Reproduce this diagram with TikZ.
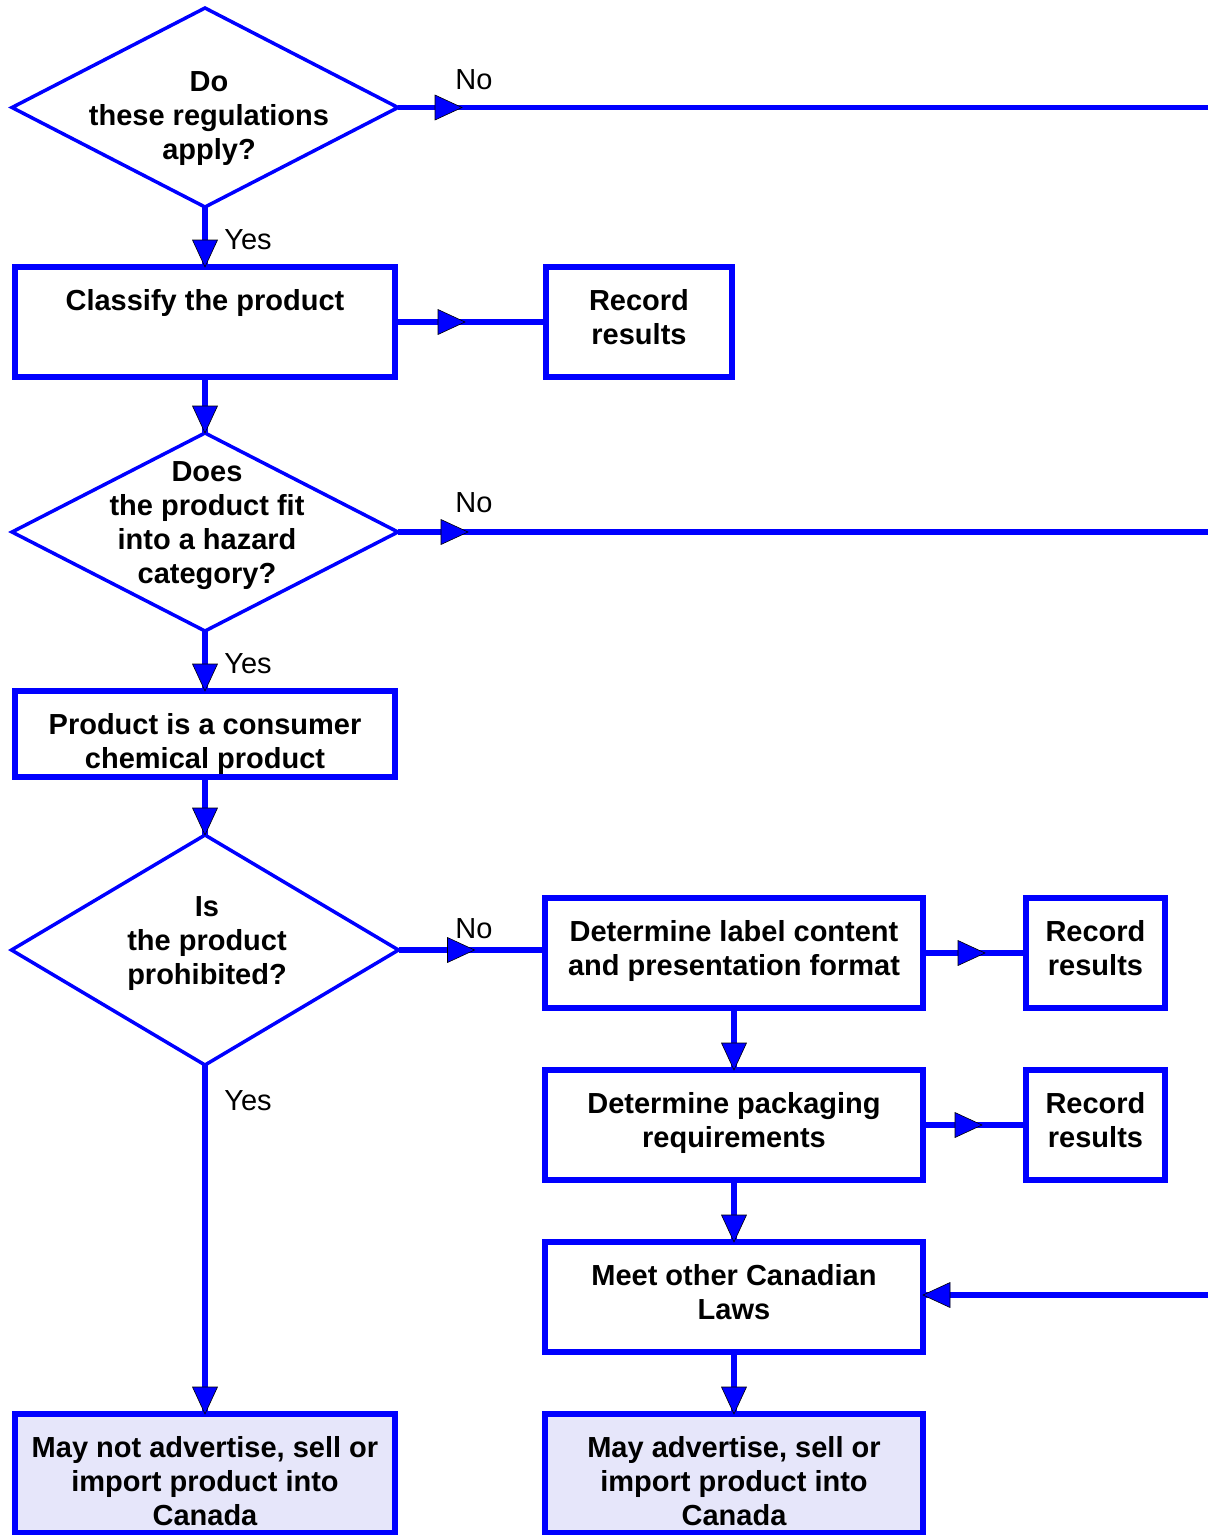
\documentclass[tikz,border=0pt]{standalone}
\usepackage{fontspec}
\setmainfont{Liberation Sans}
\usetikzlibrary{shapes.geometric,decorations.markings}

\definecolor{flowblue}{RGB}{0,0,255}
\definecolor{endfill}{RGB}{230,230,250}

\newcommand{\flowfont}{\fontsize{29}{34}\selectfont}

\tikzset{
  flowbox/.style 2 args={draw=flowblue, line width=5.5pt, inner sep=0pt, outer sep=0pt, anchor=north west,
    font=\flowfont\bfseries,
    execute at begin node={\begin{minipage}[c][#2pt][t]{#1pt}\vspace*{19.6pt}\centering\strut},
    execute at end node={\end{minipage}}},
  decision/.style={draw=flowblue, line width=3.5pt, shape=diamond, inner sep=0pt, outer sep=0pt},
  qtext/.style={font=\flowfont\bfseries, align=center, inner sep=0pt},
  answer/.style={font=\flowfont, inner sep=0pt},
  flow/.style={draw=flowblue, line width=5.5pt},
  tipat/.style={postaction={decorate}, decoration={markings,
    mark=at position #1 with {\draw[black, line width=0.6pt, fill=flowblue] (-27pt,12.5pt) -- (0pt,0pt) -- (-27pt,-12.5pt) -- cycle;}}},
}

\begin{document}
\begin{tikzpicture}[x=1pt,y=-1pt]
\useasboundingbox (0,0) rectangle (1208,1535);

% left column
\node[decision, minimum width=386pt, minimum height=199pt] (q1) at (205,107.5) {};
\node[qtext] (q1text) at (209,119) {Do\\these regulations\\apply?};
\node[flowbox={380}{110}] (classify) at (15,267) {Classify the product};
\node[flowbox={186}{110}] (rec1) at (546,267) {Record\\results};
\node[decision, minimum width=386pt, minimum height=198pt] (q2) at (205,532) {};
\node[qtext] (q2text) at (207,525.5) {Does\\the product fit\\into a hazard\\category?};
\node[flowbox={380}{86}] (product) at (15,691) {Product is a consumer\\chemical product};
\node[decision, minimum width=387pt, minimum height=230pt] (q3) at (205,950) {};
\node[qtext] (q3text) at (207,943.5) {Is\\the product\\prohibited?};
\node[flowbox={380}{119}, fill=endfill] (notbox) at (15,1414) {May not advertise, sell or\\import product into\\Canada};

% right column
\node[flowbox={378}{110}] (label) at (545,898) {Determine label content\\and presentation format};
\node[flowbox={139}{110}] (rec2) at (1026,898) {Record\\results};
\node[flowbox={378}{110}] (pack) at (545,1070) {Determine packaging\\requirements};
\node[flowbox={139}{110}] (rec3) at (1026,1070) {Record\\results};
\node[flowbox={378}{110}] (meet) at (545,1242) {Meet other Canadian\\Laws};
\node[flowbox={378}{119}, fill=endfill] (maybox) at (545,1414) {May advertise, sell or\\import product into\\Canada};

\coordinate (out1) at (1208,107.5);
\coordinate (out2) at (1208,532);
\coordinate (in3) at (1208,1295);

% connectors
\draw[flow, tipat=64pt] (q1.east) -- (out1);
\draw[flow, tipat=1] (q1.south) -- (classify.north);
\draw[flow, tipat=70pt] (classify.east) -- (rec1.west);
\draw[flow, tipat=1] (classify.south) -- (q2.north);
\draw[flow, tipat=70pt] (q2.east) -- (out2);
\draw[flow, tipat=1] (q2.south) -- (product.north);
\draw[flow, tipat=1] (product.south) -- (q3.north);
\draw[flow, tipat=76pt] (q3.east) -- (q3.east -| label.west);
\draw[flow, tipat=1] (q3.south) -- (notbox.north);
\draw[flow, tipat=62pt] (label.east) -- (rec2.west);
\draw[flow, tipat=1] (label.south) -- (pack.north);
\draw[flow, tipat=59pt] (pack.east) -- (rec3.west);
\draw[flow, tipat=1] (pack.south) -- (meet.north);
\draw[flow, tipat=1] (in3) -- (in3 -| meet.east);
\draw[flow, tipat=1] (meet.south) -- (maybox.north);

% answers
\node[answer] (no1) at (474,80) {No};
\node[answer] (yes1) at (248,240) {Yes};
\node[answer] (no2) at (474,503) {No};
\node[answer] (yes2) at (248,664) {Yes};
\node[answer] (no3) at (474,929) {No};
\node[answer] (yes3) at (248,1101) {Yes};
\end{tikzpicture}
\end{document}
